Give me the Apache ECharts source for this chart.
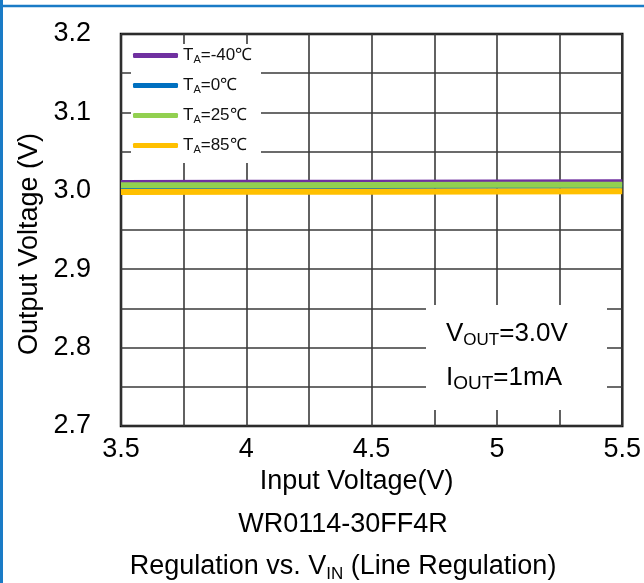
<!DOCTYPE html>
<html>
<head>
<meta charset="utf-8">
<script src="https://cdn.jsdelivr.net/npm/echarts@6/dist/echarts.min.js"></script>
<style>
  html, body { margin: 0; padding: 0; background: #fff; }
  #chartId { width: 644px; height: 583px; }
</style>
</head>
<body>
<div id="chartId"></div>
<script>
// 数据
const inputVoltage = [3.5, 4.0, 4.5, 5.0, 5.5];
const tempNames = ['-40℃', '0℃', '25℃', '85℃'];
const voutM40 = [3.0100, 3.0102, 3.0104, 3.0106, 3.0108];
const vout0 = [3.0058, 3.0060, 3.0062, 3.0064, 3.0066];
const vout25 = [3.0070, 3.0072, 3.0074, 3.0076, 3.0078];
const vout85 = [2.9985, 2.9987, 2.9989, 2.9991, 2.9993];
const xTickLabels = ['3.5', '4', '4.5', '5', '5.5'];
const yTickLabels = ['2.7', '2.8', '2.9', '3.0', '3.1', '3.2'];

const lineColors = ['#7030A0', '#0070C0', '#92D050', '#FFC000'];
const gridColor = '#3a3a3a';
const fontFamily = '"Liberation Sans", Arial, sans-serif';

const myChart = echarts.init(document.getElementById('chartId'));

const pickLabel = (list, v) => {
  const hit = list.find((t) => Math.abs(parseFloat(t) - v) < 1e-6);
  return hit || '';
};

const seriesData = [voutM40, vout0, vout25, vout85];
const getSeriesOption = () => {
  return tempNames.map((t, i) => ({
    name: 'TA=' + t,
    type: 'line',
    symbol: 'none',
    data: inputVoltage.map((x, j) => [x, seriesData[i][j]]),
    lineStyle: { color: lineColors[i], width: 6 },
    itemStyle: { color: lineColors[i] },
    z: 3,
  }));
};

const option = {
  animation: false,
  backgroundColor: '#fff',
  grid: {
    left: 121,
    right: 20,
    top: 34,
    bottom: 157,
    show: true,
    borderColor: '#000',
    borderWidth: 2.5,
  },
  legend: {
    orient: 'vertical',
    left: 128,
    top: 42,
    itemWidth: 45,
    itemHeight: 5,
    itemGap: 11.5,
    icon: 'roundRect',
    z: 6,
    formatter: function (name) {
      return '{a|T}{s|A}{a|' + name.slice(2) + '}';
    },
    textStyle: {
      rich: {
        a: { fontSize: 17, lineHeight: 20, color: '#111', fontFamily: fontFamily },
        s: { fontSize: 11, lineHeight: 12, verticalAlign: 'bottom', color: '#111', fontFamily: fontFamily },
      },
    },
  },
  xAxis: {
    type: 'value',
    min: 3.5,
    max: 5.5,
    interval: 0.25,
    name: 'Input Voltage(V)',
    nameLocation: 'middle',
    nameGap: 38,
    nameTextStyle: { fontSize: 27, color: '#000', fontFamily: fontFamily, padding: [0, 30, 0, 0] },
    axisLine: { show: false },
    axisTick: { show: false },
    axisLabel: {
      fontSize: 27,
      color: '#000',
      margin: 10,
      fontFamily: fontFamily,
      formatter: (v) => pickLabel(xTickLabels, v),
    },
    splitLine: { show: true, lineStyle: { color: gridColor, width: 1.6 } },
  },
  yAxis: {
    type: 'value',
    min: 2.7,
    max: 3.2,
    interval: 0.05,
    name: 'Output Voltage (V)',
    nameLocation: 'middle',
    nameGap: 77,
    nameRotate: 90,
    nameTextStyle: { fontSize: 27, color: '#000', fontFamily: fontFamily, padding: [0, 28, 0, 0] },
    axisLine: { show: false },
    axisTick: { show: false },
    axisLabel: {
      fontSize: 27,
      color: '#000',
      margin: 30,
      fontFamily: fontFamily,
      formatter: (v) => pickLabel(yTickLabels, v),
    },
    splitLine: { show: true, lineStyle: { color: gridColor, width: 1.6 } },
  },
  graphic: [
    // 外框
    { type: 'line', z: 10, shape: { x1: 0, y1: 6, x2: 644, y2: 6 }, style: { stroke: '#1A7BC6', lineWidth: 2.5 } },
    { type: 'line', z: 10, shape: { x1: 1.5, y1: 0, x2: 1.5, y2: 583 }, style: { stroke: '#1A7BC6', lineWidth: 3 } },
    // 图例底色
    { type: 'rect', z: 1, shape: { x: 131, y: 44, width: 130, height: 119 }, style: { fill: '#fff' } },
    // 注释框
    { type: 'rect', z: 1, shape: { x: 426, y: 305, width: 181, height: 105 }, style: { fill: '#fff' } },
    {
      type: 'text', z: 5,
      style: {
        x: 446, y: 334, verticalAlign: 'middle',
        text: '{a|V}{s|OUT}{a|=3.0V}',
        rich: {
          a: { fontSize: 26, lineHeight: 30, fill: '#000', fontFamily: fontFamily },
          s: { fontSize: 17, lineHeight: 16, verticalAlign: 'bottom', fill: '#000', fontFamily: fontFamily },
        },
      },
    },
    {
      type: 'text', z: 5,
      style: {
        x: 446, y: 378, verticalAlign: 'middle',
        text: '{a|I}{s|OUT}{a|=1mA}',
        rich: {
          a: { fontSize: 26, lineHeight: 30, fill: '#000', fontFamily: fontFamily },
          s: { fontSize: 19, lineHeight: 29, verticalAlign: 'bottom', fill: '#000', fontFamily: fontFamily },
        },
      },
    },
    {
      type: 'text', z: 5,
      style: {
        x: 343, y: 525, align: 'center', verticalAlign: 'middle',
        text: 'WR0114-30FF4R',
        fontSize: 27, fill: '#000', fontFamily: fontFamily,
      },
    },
    {
      type: 'text', z: 5,
      style: {
        x: 343, y: 567, align: 'center', verticalAlign: 'middle',
        text: '{a|Regulation vs. V}{s|IN}{a| (Line Regulation)}',
        rich: {
          a: { fontSize: 27, lineHeight: 32, fill: '#000', fontFamily: fontFamily },
          s: { fontSize: 17, lineHeight: 17, verticalAlign: 'bottom', fill: '#000', fontFamily: fontFamily },
        },
      },
    },
  ],
  series: getSeriesOption(),
};

myChart.setOption(option);
</script>
</body>
</html>
